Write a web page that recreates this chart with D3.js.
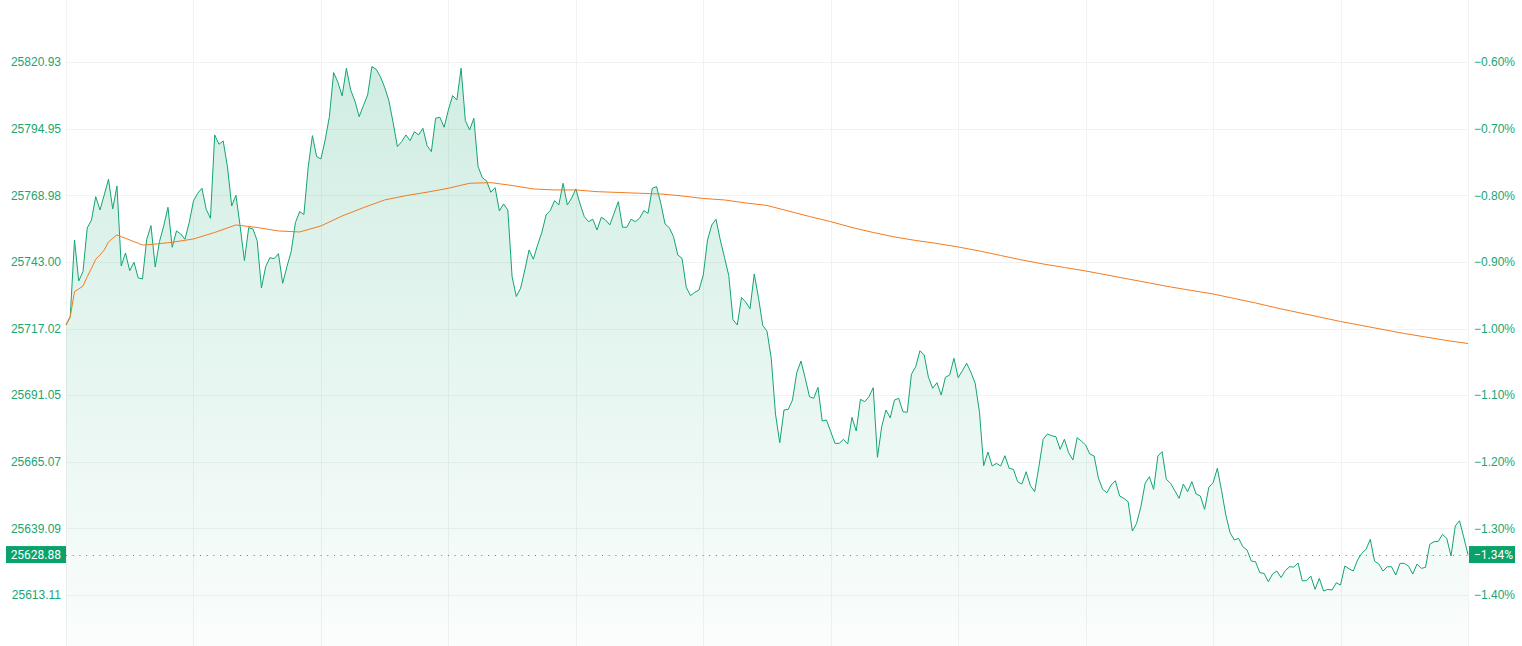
<!DOCTYPE html>
<html>
<head>
<meta charset="utf-8">
<script src="https://cdn.jsdelivr.net/npm/d3@7"></script>
<style>
  body { margin: 0; background: #fff; }
  svg { display: block; font-family: Roboto, "Noto Sans", sans-serif; }
  .axis text { font-size: 12px; fill: #1aa572; }
</style>
</head>
<body>
<div id="chart"></div>
<script>
// minute-by-minute index price, 09:30 -> 16:00 (331 points)
const prices = [
  25718.39, 25721.63, 25751.54, 25735.55, 25739.18, 25756.22, 25759.34, 25768.43, 25763.24, 25769.09,
  25775.21, 25763.63, 25772.60, 25741.40, 25746.47, 25739.57, 25742.84, 25736.72, 25736.33, 25751.81,
  25757.12, 25741.01, 25750.88, 25757.00, 25764.29, 25748.69, 25755.05, 25753.88, 25751.81, 25758.29,
  25766.75, 25769.75, 25771.70, 25763.51, 25760.00, 25792.49, 25788.86, 25790.15, 25780.13, 25764.80,
  25768.97, 25756.73, 25743.47, 25756.34, 25755.83, 25751.27, 25732.82, 25741.13, 25744.64, 25744.25,
  25746.20, 25734.65, 25741.13, 25746.98, 25758.29, 25762.58, 25761.48, 25779.81, 25792.22, 25784.03,
  25783.13, 25790.54, 25799.63, 25816.79, 25813.04, 25807.70, 25818.50, 25810.04, 25805.75, 25799.63,
  25803.92, 25808.09, 25819.13, 25818.11, 25815.23, 25811.09, 25805.87, 25797.29, 25787.93, 25789.88,
  25792.49, 25790.27, 25793.78, 25792.49, 25795.10, 25788.32, 25785.98, 25799.00, 25799.39, 25795.49,
  25802.24, 25807.82, 25806.14, 25818.50, 25798.07, 25794.44, 25799.00, 25780.13, 25775.84, 25774.55,
  25770.14, 25771.94, 25762.85, 25765.58, 25763.24, 25737.23, 25729.50, 25732.70, 25739.84, 25747.64,
  25744.05, 25749.59, 25754.46, 25761.29, 25763.04, 25766.87, 25765.19, 25773.65, 25765.19, 25767.80,
  25771.43, 25765.58, 25760.63, 25758.68, 25759.61, 25755.44, 25760.39, 25759.34, 25757.39, 25761.95,
  25766.48, 25756.49, 25756.49, 25759.61, 25758.68, 25760.00, 25762.97, 25761.95, 25771.70, 25772.33,
  25765.85, 25757.78, 25756.34, 25752.83, 25745.69, 25744.40, 25733.09, 25729.82, 25731.14, 25732.04,
  25737.89, 25751.54, 25757.39, 25759.61, 25751.54, 25744.71, 25737.69, 25720.46, 25718.39, 25729.11,
  25727.28, 25724.71, 25738.28, 25729.00, 25718.19, 25715.97, 25705.40, 25683.68, 25672.49, 25685.24,
  25685.51, 25689.14, 25699.79, 25704.35, 25697.60, 25690.43, 25689.80, 25694.09, 25680.95, 25681.34,
  25676.78, 25672.25, 25672.25, 25673.81, 25671.98, 25682.39, 25677.05, 25689.41, 25688.48, 25690.43,
  25693.94, 25666.79, 25678.73, 25685.24, 25682.20, 25689.14, 25689.80, 25684.58, 25684.34, 25699.16,
  25702.13, 25708.37, 25706.69, 25697.99, 25693.70, 25695.89, 25691.09, 25697.99, 25698.89, 25705.40,
  25697.84, 25700.57, 25703.45, 25699.94, 25695.65, 25684.58, 25663.52, 25668.86, 25663.40, 25664.45,
  25663.40, 25667.42, 25662.50, 25662.11, 25657.28, 25656.38, 25661.18, 25655.72, 25653.38, 25663.13,
  25673.81, 25675.88, 25675.22, 25674.83, 25669.91, 25673.81, 25668.59, 25665.74, 25674.44, 25673.15,
  25671.59, 25668.08, 25667.30, 25658.72, 25654.31, 25652.99, 25655.99, 25657.67, 25651.70, 25650.80,
  25649.48, 25638.05, 25641.05, 25647.53, 25656.65, 25659.23, 25654.31, 25667.30, 25668.98, 25658.21,
  25656.65, 25653.77, 25650.80, 25656.38, 25653.38, 25657.28, 25652.48, 25651.70, 25646.51, 25655.09,
  25656.89, 25662.50, 25653.77, 25644.29, 25637.39, 25634.54, 25635.20, 25631.93, 25630.64, 25626.35,
  25626.08, 25621.79, 25621.55, 25618.28, 25621.28, 25622.45, 25619.91, 25622.64, 25624.13, 25624.01,
  25625.57, 25618.67, 25618.67, 25620.50, 25615.31, 25619.60, 25614.65, 25615.31, 25615.04, 25617.89,
  25616.99, 25624.40, 25623.35, 25622.45, 25626.74, 25629.35, 25630.91, 25634.81, 25626.35, 25625.18,
  25622.45, 25624.13, 25624.13, 25620.89, 25625.45, 25625.45, 25624.40, 25621.28, 25625.18, 25623.50,
  25623.89, 25632.86, 25633.88, 25634.03, 25636.76, 25635.20, 25628.30, 25640.00, 25642.07, 25635.59,
  25628.88
];

// average price line, [minute, price]
const avgLine = [
  [0, 25718.39], [1, 25721.63], [2, 25731.38], [3, 25732.43], [4, 25733.60], [5, 25737.23],
  [6, 25740.50], [7, 25744.01], [8, 25745.69], [9, 25747.64], [10, 25750.76], [11, 25752.20],
  [12, 25753.49], [13, 25752.83], [14, 25752.20], [15, 25751.54], [16, 25750.88], [17, 25750.25],
  [18, 25749.59], [20, 25749.78], [25, 25750.64], [30, 25751.93], [35, 25754.46], [40, 25757.39],
  [45, 25756.41], [50, 25755.05], [55, 25754.66], [60, 25757.00], [65, 25760.90], [70, 25764.14],
  [75, 25767.14], [80, 25768.82], [85, 25770.18], [90, 25771.70], [95, 25773.65], [100, 25773.89],
  [105, 25772.79], [110, 25771.43], [115, 25771.04], [120, 25771.04], [125, 25770.38], [130, 25770.06],
  [135, 25769.75], [140, 25769.48], [145, 25768.70], [150, 25767.72], [155, 25767.14], [160, 25765.97],
  [165, 25764.99], [170, 25762.85], [175, 25760.70], [180, 25758.68], [185, 25756.41], [190, 25754.46],
  [195, 25752.71], [200, 25751.34], [205, 25750.17], [210, 25748.81], [215, 25747.25], [220, 25745.49],
  [225, 25743.74], [230, 25742.18], [235, 25740.81], [240, 25739.45], [245, 25737.89], [250, 25736.33],
  [255, 25734.77], [260, 25733.21], [265, 25731.84], [270, 25730.48], [275, 25728.72], [280, 25726.97],
  [285, 25725.02], [290, 25723.26], [295, 25721.51], [300, 25719.75], [305, 25718.19], [310, 25716.63],
  [315, 25715.07], [320, 25713.71], [325, 25712.34], [330, 25711.17]
];

const priceTicks = [25820.93, 25794.95, 25768.98, 25743.00, 25717.02, 25691.05, 25665.07, 25639.09, 25613.11];
const pctTicks = [-0.60, -0.70, -0.80, -0.90, -1.00, -1.10, -1.20, -1.30, -1.40];
const timeTicks = [0, 30, 60, 90, 120, 150, 180, 210, 240, 270, 300, 330];
const lastPrice = 25628.88;
const lastPct = -1.34;

const width = 1522,
  height = 646;
const green = "#13a570";
const orange = "#f47b20";

const svg = d3
  .select("#chart")
  .append("svg")
  .attr("width", width)
  .attr("height", height);

const x = d3.scaleLinear().domain([0, 330]).range([66, 1468]);
const y = d3.scaleLinear().domain([25613.11, 25820.93]).range([595, 62]);
const yPct = d3.scaleLinear().domain([-1.4, -0.6]).range([595, 62]);

// gradient for the area
const grad = svg
  .append("defs")
  .append("linearGradient")
  .attr("id", "fill")
  .attr("gradientUnits", "userSpaceOnUse")
  .attr("x1", 0).attr("y1", 60)
  .attr("x2", 0).attr("y2", height);
grad.append("stop").attr("offset", 0).attr("stop-color", green).attr("stop-opacity", 0.2);
grad.append("stop").attr("offset", 1).attr("stop-color", green).attr("stop-opacity", 0.02);

// grid
const grid = svg.append("g").attr("stroke", "#f1f2f3").attr("stroke-width", 1);
grid
  .selectAll(".h")
  .data(priceTicks)
  .join("line")
  .attr("x1", x(0))
  .attr("x2", x(330))
  .attr("y1", (d) => Math.round(y(d)) + 0.5)
  .attr("y2", (d) => Math.round(y(d)) + 0.5);
grid
  .selectAll(".v")
  .data(timeTicks)
  .join("line")
  .attr("x1", (d) => Math.round(x(d)) + 0.5)
  .attr("x2", (d) => Math.round(x(d)) + 0.5)
  .attr("y1", 0)
  .attr("y2", height);

// area + price line
const area = d3
  .area()
  .x((d, i) => x(i))
  .y0(height)
  .y1((d) => y(d));
svg.append("path").datum(prices).attr("d", area).attr("fill", "url(#fill)");

const line = d3
  .line()
  .x((d, i) => x(i))
  .y((d) => y(d));
svg
  .append("path")
  .datum(prices)
  .attr("d", line)
  .attr("fill", "none")
  .attr("stroke", green)
  .attr("stroke-width", 1);

// average line
svg
  .append("path")
  .datum(avgLine)
  .attr(
    "d",
    d3
      .line()
      .x((d) => x(d[0]))
      .y((d) => y(d[1]))
  )
  .attr("fill", "none")
  .attr("stroke", orange)
  .attr("stroke-width", 1);

// last price dotted line
svg
  .append("line")
  .attr("x1", x(0))
  .attr("x2", x(330))
  .attr("y1", Math.round(y(lastPrice)) + 0.5)
  .attr("y2", Math.round(y(lastPrice)) + 0.5)
  .attr("stroke", green)
  .attr("stroke-width", 1)
  .attr("stroke-dasharray", "1 5.7");

// axes
const leftAxis = d3
  .axisLeft(y)
  .tickValues(priceTicks)
  .tickSize(0)
  .tickPadding(5)
  .tickFormat(d3.format(".2f"));
const rightAxis = d3
  .axisRight(yPct)
  .tickValues(pctTicks)
  .tickSize(0)
  .tickPadding(6)
  .tickFormat((d) => d3.format(".2f")(d) + "%");

svg
  .append("g")
  .attr("class", "axis")
  .attr("transform", `translate(${x(0)},0)`)
  .call(leftAxis)
  .call((g) => g.select(".domain").remove());
svg
  .append("g")
  .attr("class", "axis")
  .attr("transform", `translate(${x(330)},0)`)
  .call(rightAxis)
  .call((g) => g.select(".domain").remove());

// last value tags
const tagY = y(lastPrice);
const leftTag = svg.append("g");
leftTag
  .append("rect")
  .attr("x", 6)
  .attr("y", tagY - 8.5)
  .attr("width", x(0) - 6)
  .attr("height", 17)
  .attr("fill", "#0aa26a");
leftTag
  .append("text")
  .attr("x", x(0) - 5)
  .attr("y", tagY)
  .attr("dy", "0.35em")
  .attr("text-anchor", "end")
  .attr("fill", "#fff")
  .style("font-size", "12px")
  .text(d3.format(".2f")(lastPrice));

const rightTag = svg.append("g");
rightTag
  .append("rect")
  .attr("x", x(330) + 1)
  .attr("y", tagY - 8.5)
  .attr("width", 46)
  .attr("height", 17)
  .attr("fill", "#0aa26a");
rightTag
  .append("text")
  .attr("x", x(330) + 6)
  .attr("y", tagY)
  .attr("dy", "0.35em")
  .attr("fill", "#fff")
  .style("font-size", "12px")
  .text(d3.format(".2f")(lastPct) + "%");
</script>
</body>
</html>
